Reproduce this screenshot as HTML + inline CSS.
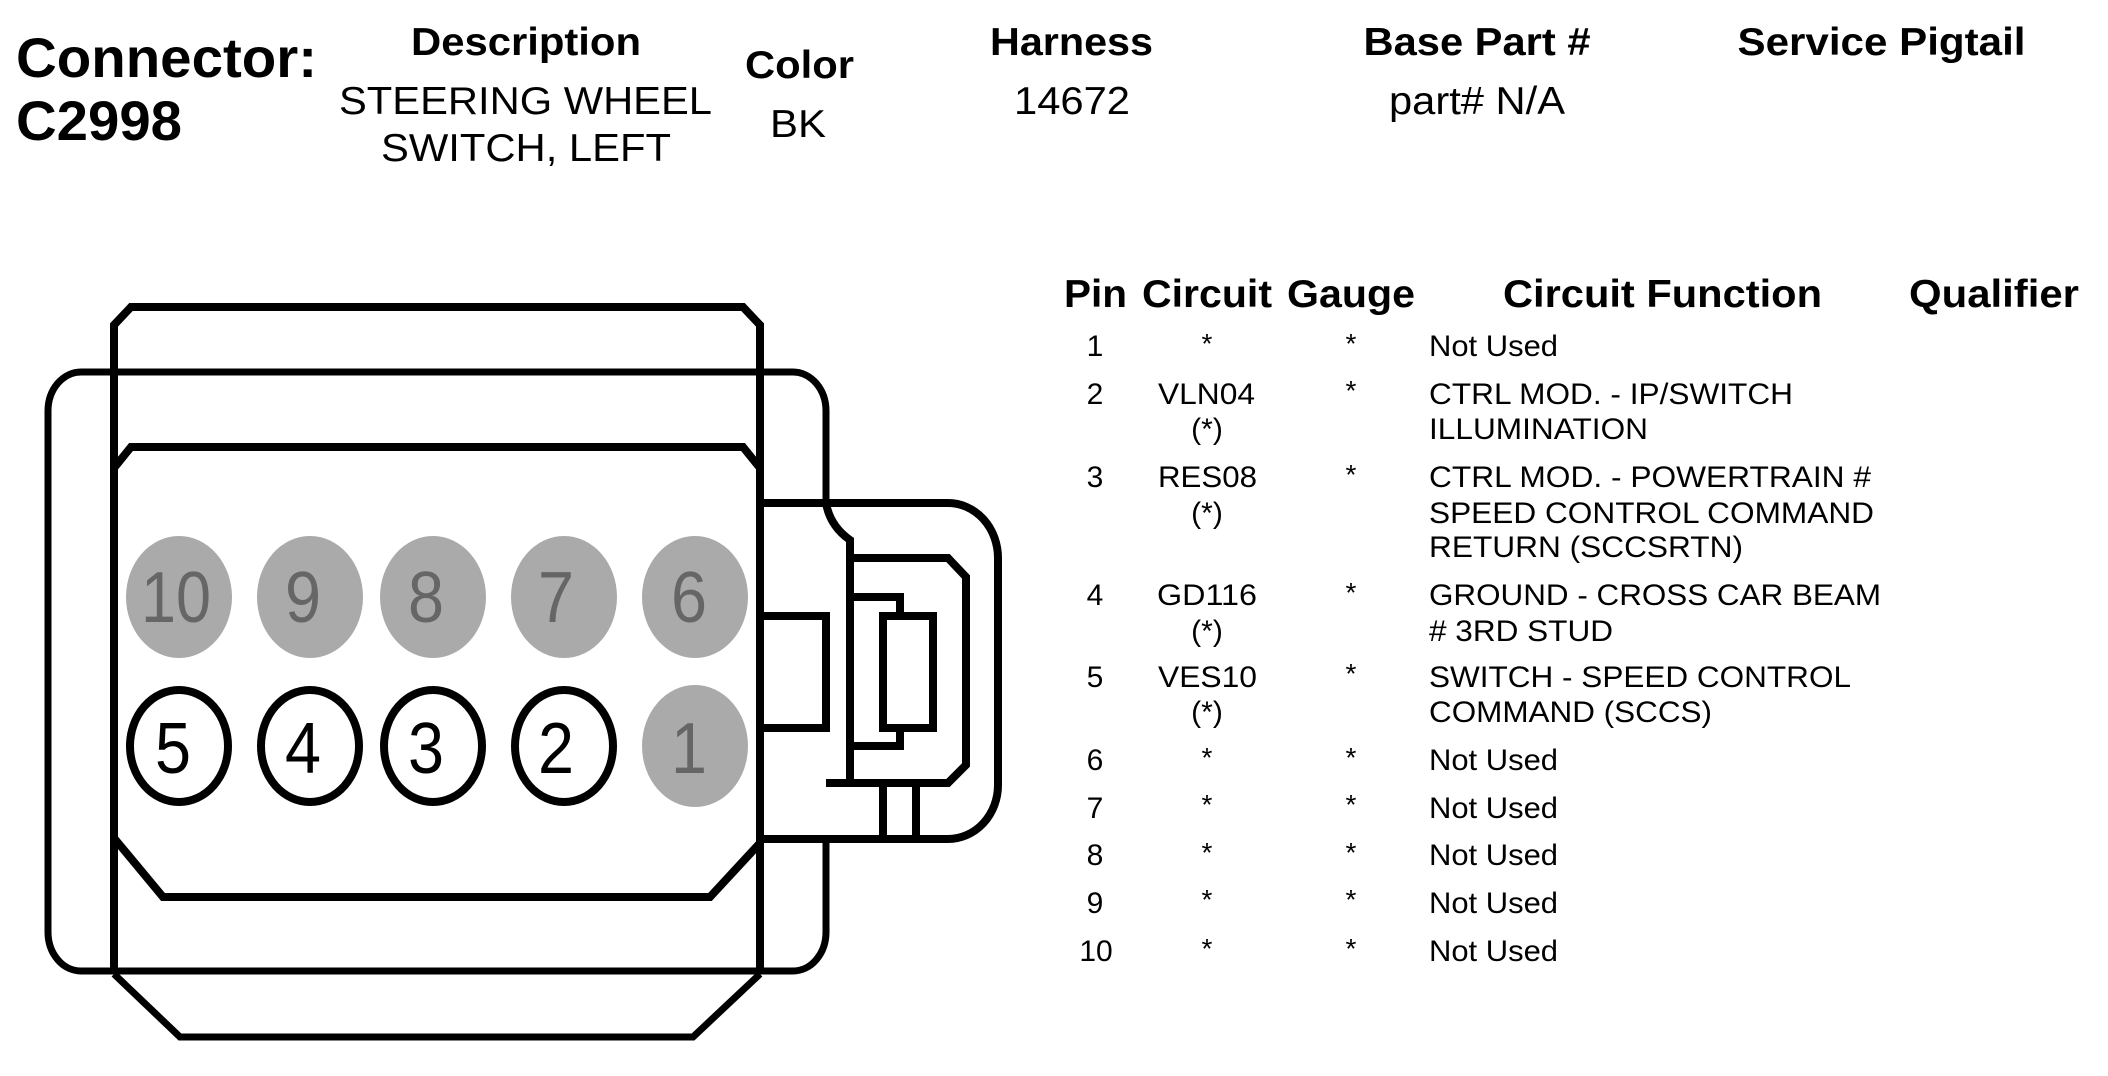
<!DOCTYPE html>
<html><head><meta charset="utf-8"><style>
html,body{margin:0;padding:0;background:#fff}
svg{display:block}
text{font-family:"Liberation Sans",Arial,sans-serif;fill:#000}
.b{font-weight:bold}
.h{font-weight:bold;font-size:39px}
.t{font-size:30px}
.a{font-size:28px}
.d{font-size:39px}
.n{font-size:72px;text-anchor:middle}
.g{fill:#666}
</style></head><body>
<svg width="2108" height="1076" viewBox="0 0 2108 1076" xmlns="http://www.w3.org/2000/svg">
<rect width="2108" height="1076" fill="#fff"/>
<g fill="none" stroke="#000" stroke-width="8">
<path d="M114 974V325L131 307H743L760 325V974"/>
<path d="M114 974L180 1037H693L760 974" stroke-width="7"/>
<path d="M114 468L131 447H743L760 468"/>
<path d="M114 838L163 897H710L760 843"/>
<path d="M826 503V411A33 39 0 0 0 793 372H81A33 39 0 0 0 48 411V932A33 39 0 0 0 81 971H793A33 39 0 0 0 826 932V839" stroke-width="7"/>
<path d="M760 503H948A50 55 0 0 1 998 558V785A50 54 0 0 1 948 839H760"/>
<path d="M826 503Q830 526 850 540V783"/>
<path d="M850 558H948L966 577V765L948 783H826"/>
<path d="M850 597H900V616M900 728V746H850"/>
<rect x="883" y="616" width="50" height="112"/>
<path d="M760 616H826V728H760"/>
<path d="M883 783V839M916 783V839"/>
</g>
<g fill="#aaa">
<ellipse cx="179" cy="597" rx="53" ry="61"/>
<ellipse cx="310" cy="597" rx="53" ry="61"/>
<ellipse cx="433" cy="597" rx="53" ry="61"/>
<ellipse cx="564" cy="597" rx="53" ry="61"/>
<ellipse cx="695" cy="597" rx="53" ry="61"/>
<ellipse cx="695" cy="746" rx="53" ry="61"/>
</g>
<g fill="#fff" stroke="#000" stroke-width="8">
<ellipse cx="179" cy="746" rx="49" ry="56"/>
<ellipse cx="310" cy="746" rx="49" ry="56"/>
<ellipse cx="433" cy="746" rx="49" ry="56"/>
<ellipse cx="564" cy="746" rx="49" ry="56"/>
</g>
<text class="n g" x="176" y="622" textLength="70" lengthAdjust="spacingAndGlyphs">10</text>
<text class="n g" x="303" y="622" textLength="36" lengthAdjust="spacingAndGlyphs">9</text>
<text class="n g" x="426" y="622" textLength="36" lengthAdjust="spacingAndGlyphs">8</text>
<text class="n g" x="556" y="622" textLength="36" lengthAdjust="spacingAndGlyphs">7</text>
<text class="n g" x="689" y="622" textLength="36" lengthAdjust="spacingAndGlyphs">6</text>
<text class="n" x="173" y="773" textLength="36" lengthAdjust="spacingAndGlyphs">5</text>
<text class="n" x="303" y="773" textLength="36" lengthAdjust="spacingAndGlyphs">4</text>
<text class="n" x="426" y="773" textLength="36" lengthAdjust="spacingAndGlyphs">3</text>
<text class="n" x="556" y="773" textLength="36" lengthAdjust="spacingAndGlyphs">2</text>
<text class="n g" x="689" y="773" textLength="36" lengthAdjust="spacingAndGlyphs">1</text>

<text class="b" font-size="56" x="16" y="77" textLength="301" lengthAdjust="spacingAndGlyphs">Connector:</text>
<text class="b" font-size="56" x="16" y="140" textLength="166" lengthAdjust="spacingAndGlyphs">C2998</text>
<text class="h" x="411" y="55" textLength="230" lengthAdjust="spacingAndGlyphs">Description</text>
<text class="d" x="339" y="114" textLength="373" lengthAdjust="spacingAndGlyphs">STEERING WHEEL</text>
<text class="d" x="381" y="161" textLength="290" lengthAdjust="spacingAndGlyphs">SWITCH, LEFT</text>
<text class="h" x="745" y="78" textLength="109" lengthAdjust="spacingAndGlyphs">Color</text>
<text class="d" x="770" y="137" textLength="56" lengthAdjust="spacingAndGlyphs">BK</text>
<text class="h" x="990" y="55" textLength="163" lengthAdjust="spacingAndGlyphs">Harness</text>
<text class="d" x="1014" y="114" textLength="116" lengthAdjust="spacingAndGlyphs">14672</text>
<text class="h" x="1363.5" y="55" textLength="227" lengthAdjust="spacingAndGlyphs">Base Part #</text>
<text class="d" x="1389" y="114" textLength="176" lengthAdjust="spacingAndGlyphs">part# N/A</text>
<text class="h" x="1737.5" y="55" textLength="288" lengthAdjust="spacingAndGlyphs">Service Pigtail</text>

<text class="h" x="1064" y="307" textLength="63" lengthAdjust="spacingAndGlyphs">Pin</text>
<text class="h" x="1142" y="307" textLength="130" lengthAdjust="spacingAndGlyphs">Circuit</text>
<text class="h" x="1287" y="307" textLength="128" lengthAdjust="spacingAndGlyphs">Gauge</text>
<text class="h" x="1503" y="307" textLength="319" lengthAdjust="spacingAndGlyphs">Circuit Function</text>
<text class="h" x="1909" y="307" textLength="170" lengthAdjust="spacingAndGlyphs">Qualifier</text>

<g text-anchor="middle">
<text class="t" x="1095" y="356">1</text>
<text class="t" x="1095" y="404">2</text>
<text class="t" x="1095" y="487">3</text>
<text class="t" x="1095" y="605">4</text>
<text class="t" x="1095" y="687">5</text>
<text class="t" x="1095" y="770">6</text>
<text class="t" x="1095" y="818">7</text>
<text class="t" x="1095" y="865">8</text>
<text class="t" x="1095" y="913">9</text>
<text class="t" x="1096" y="961">10</text>
<text class="a" x="1207" y="353">*</text>
<text class="a" x="1207" y="767">*</text>
<text class="a" x="1207" y="814">*</text>
<text class="a" x="1207" y="862">*</text>
<text class="a" x="1207" y="909">*</text>
<text class="a" x="1207" y="958">*</text>
<text class="a" x="1351" y="353">*</text>
<text class="a" x="1351" y="400">*</text>
<text class="a" x="1351" y="484">*</text>
<text class="a" x="1351" y="602">*</text>
<text class="a" x="1351" y="683">*</text>
<text class="a" x="1351" y="767">*</text>
<text class="a" x="1351" y="814">*</text>
<text class="a" x="1351" y="862">*</text>
<text class="a" x="1351" y="909">*</text>
<text class="a" x="1351" y="958">*</text>
<text class="t" x="1207" y="439">(*)</text>
<text class="t" x="1207" y="523">(*)</text>
<text class="t" x="1207" y="641">(*)</text>
<text class="t" x="1207" y="722">(*)</text>
</g>
<text class="t" x="1158" y="404" textLength="97" lengthAdjust="spacingAndGlyphs">VLN04</text>
<text class="t" x="1158" y="487" textLength="99" lengthAdjust="spacingAndGlyphs">RES08</text>
<text class="t" x="1157" y="605" textLength="100" lengthAdjust="spacingAndGlyphs">GD116</text>
<text class="t" x="1158" y="687" textLength="99" lengthAdjust="spacingAndGlyphs">VES10</text>

<text class="t" x="1429" y="356" textLength="129" lengthAdjust="spacingAndGlyphs">Not Used</text>
<text class="t" x="1429" y="404" textLength="364" lengthAdjust="spacingAndGlyphs">CTRL MOD. - IP/SWITCH</text>
<text class="t" x="1429" y="439" textLength="219" lengthAdjust="spacingAndGlyphs">ILLUMINATION</text>
<text class="t" x="1429" y="487" textLength="442" lengthAdjust="spacingAndGlyphs">CTRL MOD. - POWERTRAIN #</text>
<text class="t" x="1429" y="523" textLength="445" lengthAdjust="spacingAndGlyphs">SPEED CONTROL COMMAND</text>
<text class="t" x="1429" y="557" textLength="314" lengthAdjust="spacingAndGlyphs">RETURN (SCCSRTN)</text>
<text class="t" x="1429" y="605" textLength="452" lengthAdjust="spacingAndGlyphs">GROUND - CROSS CAR BEAM</text>
<text class="t" x="1429" y="641" textLength="184" lengthAdjust="spacingAndGlyphs"># 3RD STUD</text>
<text class="t" x="1429" y="687" textLength="422" lengthAdjust="spacingAndGlyphs">SWITCH - SPEED CONTROL</text>
<text class="t" x="1429" y="722" textLength="283" lengthAdjust="spacingAndGlyphs">COMMAND (SCCS)</text>
<text class="t" x="1429" y="770" textLength="129" lengthAdjust="spacingAndGlyphs">Not Used</text>
<text class="t" x="1429" y="818" textLength="129" lengthAdjust="spacingAndGlyphs">Not Used</text>
<text class="t" x="1429" y="865" textLength="129" lengthAdjust="spacingAndGlyphs">Not Used</text>
<text class="t" x="1429" y="913" textLength="129" lengthAdjust="spacingAndGlyphs">Not Used</text>
<text class="t" x="1429" y="961" textLength="129" lengthAdjust="spacingAndGlyphs">Not Used</text>
</svg>
</body></html>
